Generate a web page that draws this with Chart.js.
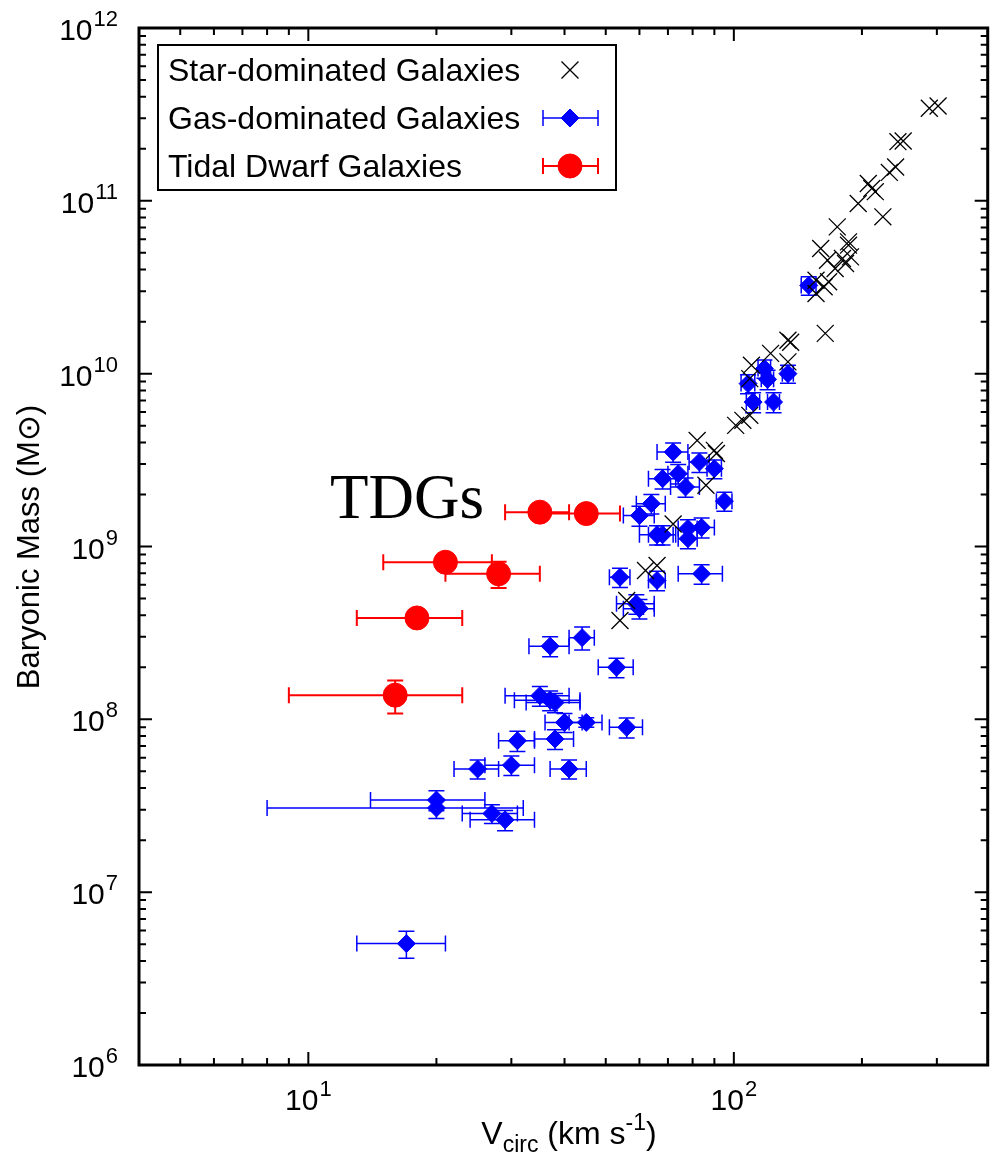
<!DOCTYPE html>
<html>
<head>
<meta charset="utf-8">
<script src="https://cdn.jsdelivr.net/npm/chart.js@4.4.1/dist/chart.umd.min.js"></script>
<style>
  html, body { margin: 0; padding: 0; background: #fff; }
</style>
</head>
<body>
<canvas id="chart" width="1001" height="1167"></canvas>
<script>
// star-dominated galaxies (no error bars)
const starV = [288, 302, 243, 250, 240, 232, 207, 211, 215, 196, 224, 175, 160, 186, 186, 166, 180, 188, 173, 183,
               156, 163, 167, 156, 164, 134, 136, 122, 110, 134, 109, 101, 105, 109, 82, 90, 91, 86, 72, 62, 66, 56, 54];
const starM = [3.43e11, 3.54e11, 2.20e11, 2.22e11, 1.57e11, 1.46e11, 1.26e11, 1.18e11, 1.13e11, 9.65e10, 8.08e10,
               7.07e10, 5.30e10, 5.79e10, 5.54e10, 4.53e10, 4.64e10, 4.74e10, 4.06e10, 4.34e10, 3.47e10, 3.18e10,
               3.40e10, 2.91e10, 1.71e10, 1.56e10, 1.52e10, 1.31e10, 1.12e10, 1.17e10, 9.36e9, 5.02e9, 5.37e9,
               5.74e9, 4.11e9, 3.60e9, 3.45e9, 2.26e9, 1.35e9, 7.26e8, 7.76e8, 4.87e8, 3.73e8];

// gas-dominated galaxies
const gasV    = [150, 108, 111, 118, 120, 124, 134, 72, 83, 90, 74, 68, 77, 95, 64, 60, 66, 68, 78, 84, 78,
                 54, 66, 84, 59, 60, 44, 37, 53, 35, 37, 38, 40, 45, 56, 31, 38, 25, 30, 41, 20, 20, 27, 29, 17];
const gasVErr = [6, 4, 4, 4, 4, 4, 4, 6, 4.5, 3.5, 4, 5, 6, 4, 5, 5, 6, 5, 4, 6, 4,
                 3, 3, 10, 6, 5, 3, 4, 5, 6, 6.5, 5.5, 4, 4, 5, 3, 4, 3, 4, 4, 6, 12, 4, 5, 4];
const gasM    = [3.24e10, 8.76e9, 6.85e9, 1.07e10, 9.27e9, 6.85e9, 1.0e10, 3.52e9, 3.08e9, 2.82e9, 2.64e9,
                 2.47e9, 2.21e9, 1.83e9, 1.77e9, 1.51e9, 1.17e9, 1.17e9, 1.27e9, 1.29e9, 1.11e9,
                 6.64e8, 6.36e8, 6.95e8, 4.66e8, 4.37e8, 2.97e8, 2.65e8, 2.0e8, 1.37e8, 1.29e8, 1.25e8,
                 9.6e7, 9.6e7, 8.99e7, 7.52e7, 7.69e7, 5.16e7, 5.43e7, 5.16e7, 3.41e7, 3.07e7, 2.85e7, 2.62e7, 5.04e6];
const gasMErr = [4.0e9, 1.1e9, 0.9e9, 1.3e9, 1.2e9, 0.9e9, 1.2e9, 4.5e8, 4e8, 3.5e8, 3.4e8,
                 3.2e8, 2.8e8, 2.3e8, 2.3e8, 2e8, 1.5e8, 1.5e8, 1.6e8, 1.7e8, 1.4e8,
                 8.5e7, 8.2e7, 9e7, 6e7, 5.6e7, 4.5e7, 3.5e7, 2.6e7, 1.8e7, 1.7e7, 1.6e7,
                 1.2e7, 0.6e7, 1.2e7, 1e7, 1e7, 6.5e6, 7e6, 6.5e6, 4.5e6, 4e6, 3.5e6, 3.5e6, 9e5];

// tidal dwarf galaxies
const tdgV    = [35, 45, 21, 28, 18, 16];
const tdgVErr = [6, 9, 6, 7, 5, 7];
const tdgM    = [1.58e9, 1.55e9, 8.11e8, 6.95e8, 3.86e8, 1.38e8];
const tdgMErr = [1.2e8, 1.0e8, 6e7, 1.2e8, 3e7, 3e7];

const xMin = 4, xMax = 395;
const yMin = 1e6, yMax = 1e12;
const xMajor = [10, 100];
const xMinor = [4, 5, 6, 7, 8, 9, 20, 30, 40, 50, 60, 70, 80, 90, 200, 300];
const yExps = [6, 7, 8, 9, 10, 11, 12];

const SANS = '"Liberation Sans", Arial, Helvetica, sans-serif';

function pts(xs, ys) {
    return xs.map((v, i) => ({x: v, y: ys[i]}));
}
function errs(dx, dy) {
    return dx.map((v, i) => ({dx: v, dy: dy[i]}));
}

// error bars drawn under each dataset's markers
const errorBars = {
    id: 'errorBars',
    beforeDatasetDraw(chart, args) {
        const ds = chart.data.datasets[args.index];
        if (!ds.errs) return;
        const xs = chart.scales.x, ys = chart.scales.y, ctx = chart.ctx;
        const cap = ds.capSize;
        ctx.save();
        ctx.strokeStyle = ds.borderColor;
        ctx.lineWidth = ds.errWidth;
        ds.data.forEach((p, i) => {
            const e = ds.errs[i];
            const px = xs.getPixelForValue(p.x), py = ys.getPixelForValue(p.y);
            const x0 = xs.getPixelForValue(p.x - e.dx), x1 = xs.getPixelForValue(p.x + e.dx);
            const y0 = ys.getPixelForValue(p.y - e.dy), y1 = ys.getPixelForValue(p.y + e.dy);
            ctx.beginPath();
            ctx.moveTo(x0, py); ctx.lineTo(x1, py);
            ctx.moveTo(x0, py - cap); ctx.lineTo(x0, py + cap);
            ctx.moveTo(x1, py - cap); ctx.lineTo(x1, py + cap);
            ctx.moveTo(px, y0); ctx.lineTo(px, y1);
            ctx.moveTo(px - cap, y0); ctx.lineTo(px + cap, y0);
            ctx.moveTo(px - cap, y1); ctx.lineTo(px + cap, y1);
            ctx.stroke();
        });
        ctx.restore();
    }
};

function powLabel(ctx, exp, x, y, align) {
    ctx.font = '30px ' + SANS;
    const w1 = ctx.measureText('10').width;
    ctx.font = '22px ' + SANS;
    const w2 = ctx.measureText(String(exp)).width;
    const left = align === 'right' ? x - w1 - w2 - 1 : x - (w1 + w2 + 1) / 2;
    ctx.textAlign = 'left';
    ctx.textBaseline = 'alphabetic';
    ctx.font = '30px ' + SANS;
    ctx.fillText('10', left, y);
    ctx.font = '22px ' + SANS;
    ctx.fillText(String(exp), left + w1 + 1, y - 14);
}

// gnuplot-like frame, inward ticks, labels, titles, key
const frame = {
    id: 'frame',
    afterDraw(chart) {
        const ctx = chart.ctx, a = chart.chartArea;
        const xs = chart.scales.x, ys = chart.scales.y;
        ctx.save();
        ctx.fillStyle = '#000';
        ctx.strokeStyle = '#000';

        // ticks
        ctx.lineWidth = 2;
        ctx.beginPath();
        const xt = (v, len) => {
            const p = xs.getPixelForValue(v);
            ctx.moveTo(p, a.bottom); ctx.lineTo(p, a.bottom - len);
            ctx.moveTo(p, a.top); ctx.lineTo(p, a.top + len);
        };
        xMajor.forEach(v => xt(v, 13));
        xMinor.forEach(v => xt(v, 7));
        const yt = (v, len) => {
            const p = ys.getPixelForValue(v);
            ctx.moveTo(a.left, p); ctx.lineTo(a.left + len, p);
            ctx.moveTo(a.right, p); ctx.lineTo(a.right - len, p);
        };
        yExps.forEach(e => {
            yt(Math.pow(10, e), 13);
            if (e < 12) {
                for (let k = 2; k <= 9; k++) yt(k * Math.pow(10, e), 7);
            }
        });
        ctx.stroke();

        // frame
        ctx.lineWidth = 3;
        ctx.strokeRect(a.left, a.top, a.right - a.left, a.bottom - a.top);

        // tick labels
        xMajor.forEach(v => powLabel(ctx, Math.round(Math.log10(v)), xs.getPixelForValue(v), 1110, 'center'));
        yExps.forEach(e => powLabel(ctx, e, 118, ys.getPixelForValue(Math.pow(10, e)) + 12, 'right'));

        // x title
        const parts = [['V', 32, 0], ['circ', 23, 8], [' (km s', 32, 0], ['-1', 23, -14], [')', 32, 0]];
        let tw = 0;
        parts.forEach(p => { ctx.font = p[1] + 'px ' + SANS; tw += ctx.measureText(p[0]).width; });
        let tx = 569 - tw / 2;
        ctx.textAlign = 'left';
        parts.forEach(p => {
            ctx.font = p[1] + 'px ' + SANS;
            ctx.fillText(p[0], tx, 1144 + p[2]);
            tx += ctx.measureText(p[0]).width;
        });

        // y title
        ctx.save();
        ctx.translate(39, 547);
        ctx.rotate(-Math.PI / 2);
        ctx.font = '31px ' + SANS;
        ctx.textAlign = 'center';
        ctx.fillText('Baryonic Mass (M\u2299)', 0, 0);
        ctx.restore();

        // annotation
        ctx.font = '63px "Liberation Serif", "Times New Roman", serif';
        ctx.textAlign = 'left';
        ctx.fillText('TDGs', 330, 518);

        // key
        ctx.lineWidth = 2;
        ctx.strokeRect(158, 45, 458, 145);
        const rows = [70, 118, 166];
        ctx.font = '32px ' + SANS;
        chart.data.datasets.forEach((ds, i) => {
            const ry = rows[i];
            ctx.fillStyle = '#000';
            ctx.fillText(ds.label, 168, ry + 11);
            ctx.strokeStyle = ds.borderColor;
            ctx.fillStyle = ds.backgroundColor;
            if (ds.errs) {
                ctx.lineWidth = ds.errWidth;
                ctx.beginPath();
                ctx.moveTo(543, ry); ctx.lineTo(598, ry);
                ctx.moveTo(543, ry - 8); ctx.lineTo(543, ry + 8);
                ctx.moveTo(598, ry - 8); ctx.lineTo(598, ry + 8);
                ctx.stroke();
            }
            ctx.lineWidth = ds.pointBorderWidth || 1;
            Chart.helpers.drawPoint(ctx, {
                pointStyle: ds.pointStyle, radius: ds.pointRadius, borderWidth: ds.pointBorderWidth || 1, rotation: 0
            }, 570, ry);
        });
        ctx.restore();
    }
};

new Chart(document.getElementById('chart'), {
    type: 'scatter',
    data: {
        datasets: [
            {
                label: 'Star-dominated Galaxies',
                data: pts(starV, starM),
                pointStyle: 'crossRot',
                pointRadius: 12,
                pointBorderWidth: 1.3,
                borderColor: '#000',
                backgroundColor: '#000',
                order: 2
            },
            {
                label: 'Gas-dominated Galaxies',
                data: pts(gasV, gasM),
                errs: errs(gasVErr, gasMErr),
                errWidth: 1.5,
                capSize: 8,
                pointStyle: 'rectRot',
                pointRadius: 9,
                pointBorderWidth: 1,
                borderColor: '#0000ff',
                backgroundColor: '#0000ff',
                order: 3
            },
            {
                label: 'Tidal Dwarf Galaxies',
                data: pts(tdgV, tdgM),
                errs: errs(tdgVErr, tdgMErr),
                errWidth: 2,
                capSize: 8,
                pointStyle: 'circle',
                pointRadius: 12,
                pointBorderWidth: 1,
                borderColor: '#ff0000',
                backgroundColor: '#ff0000',
                order: 1
            }
        ]
    },
    options: {
        responsive: false,
        animation: false,
        events: [],
        layout: { padding: { left: 139, top: 28, right: 3, bottom: 102 } },
        plugins: {
            legend: { display: false },
            tooltip: { enabled: false }
        },
        scales: {
            x: { type: 'logarithmic', min: xMin, max: xMax, display: false },
            y: { type: 'logarithmic', min: yMin, max: yMax, display: false }
        }
    },
    plugins: [errorBars, frame]
});
</script>
</body>
</html>
